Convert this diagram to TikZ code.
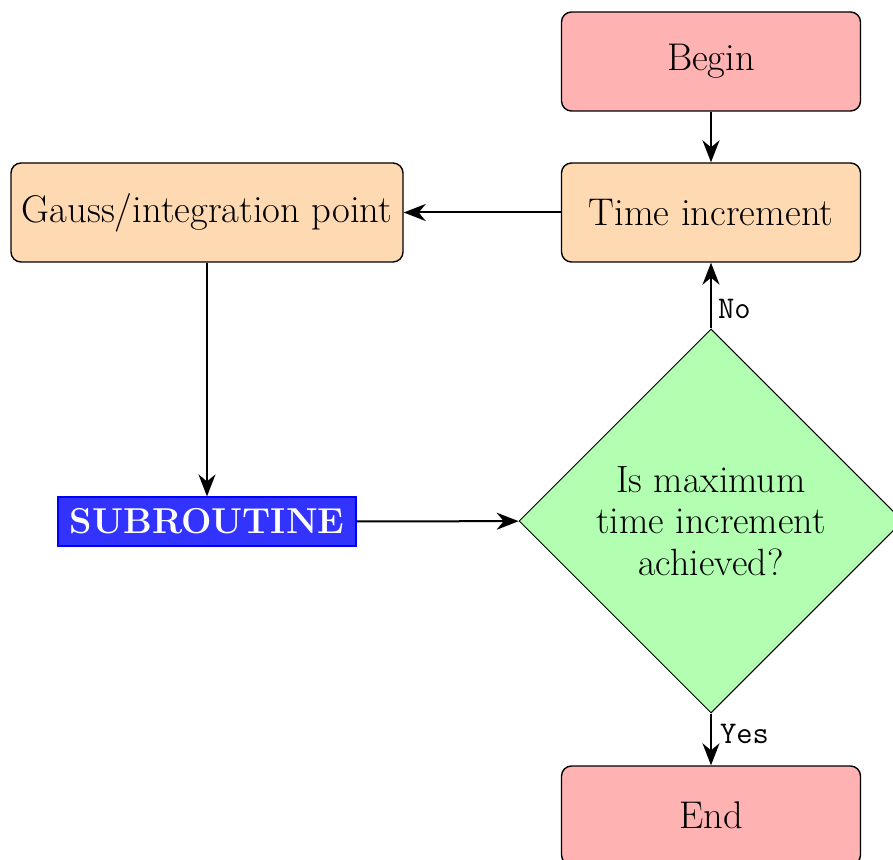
\documentclass[tikz,border=0pt]{standalone}
\usetikzlibrary{shapes.geometric,arrows.meta}
\begin{document}
\begin{tikzpicture}[x=1pt,y=1pt,
  flowbox/.style={draw, line width=0.7pt, rounded corners=5pt, minimum width=149.5pt, minimum height=49.5pt, font=\fontsize{19.3}{23}\selectfont, inner sep=3pt},
  startstop/.style={flowbox, fill=red!30},
  procbox/.style={flowbox, fill=orange!30},
  decision/.style={diamond, draw, line width=0.5pt, fill=green!30, minimum width=192pt, minimum height=192pt, inner sep=0pt, font=\fontsize{19}{20.8}\selectfont, align=center},
  subbox/.style={rectangle, draw=blue, line width=0.6pt, fill=blue!80, text=white, font=\fontsize{18}{21}\selectfont\bfseries, minimum width=149pt, minimum height=24.5pt, inner sep=2pt},
  flowarrow/.style={-{Stealth[length=11pt,width=8.5pt,inset=3.5pt]}, line width=1pt},
  lbl/.style={font=\fontsize{15.8}{18}\selectfont\ttfamily, inner sep=1pt}]
\useasboundingbox (0,0) rectangle (446.5,-430);
\node[startstop] (begin) at (355.5,-30.75) {Begin};
\node[procbox] (time) at (355.5,-106.25) {Time increment};
\node[procbox, minimum width=196pt] (gauss) at (103.5,-106.25) {Gauss/integration point};
\node[subbox] (sub) at (103.5,-260.75) {SUBROUTINE};
\node[decision] (dec) at (355.5,-260.5) {Is maximum\\time increment\\achieved?};
\node[startstop] (end) at (355.5,-407.75) {End};
\draw[flowarrow] (begin) -- (time);
\draw[flowarrow] (time) -- (gauss);
\draw[flowarrow] (gauss) -- (sub);
\draw[flowarrow] (sub) -- (dec);
\draw[flowarrow] (dec) -- node[lbl, anchor=west, pos=0.3, xshift=2pt] {No} (time);
\draw[flowarrow] (dec) -- node[lbl, anchor=west, pos=0.4, xshift=3pt] {Yes} (end);
\end{tikzpicture}
\end{document}
